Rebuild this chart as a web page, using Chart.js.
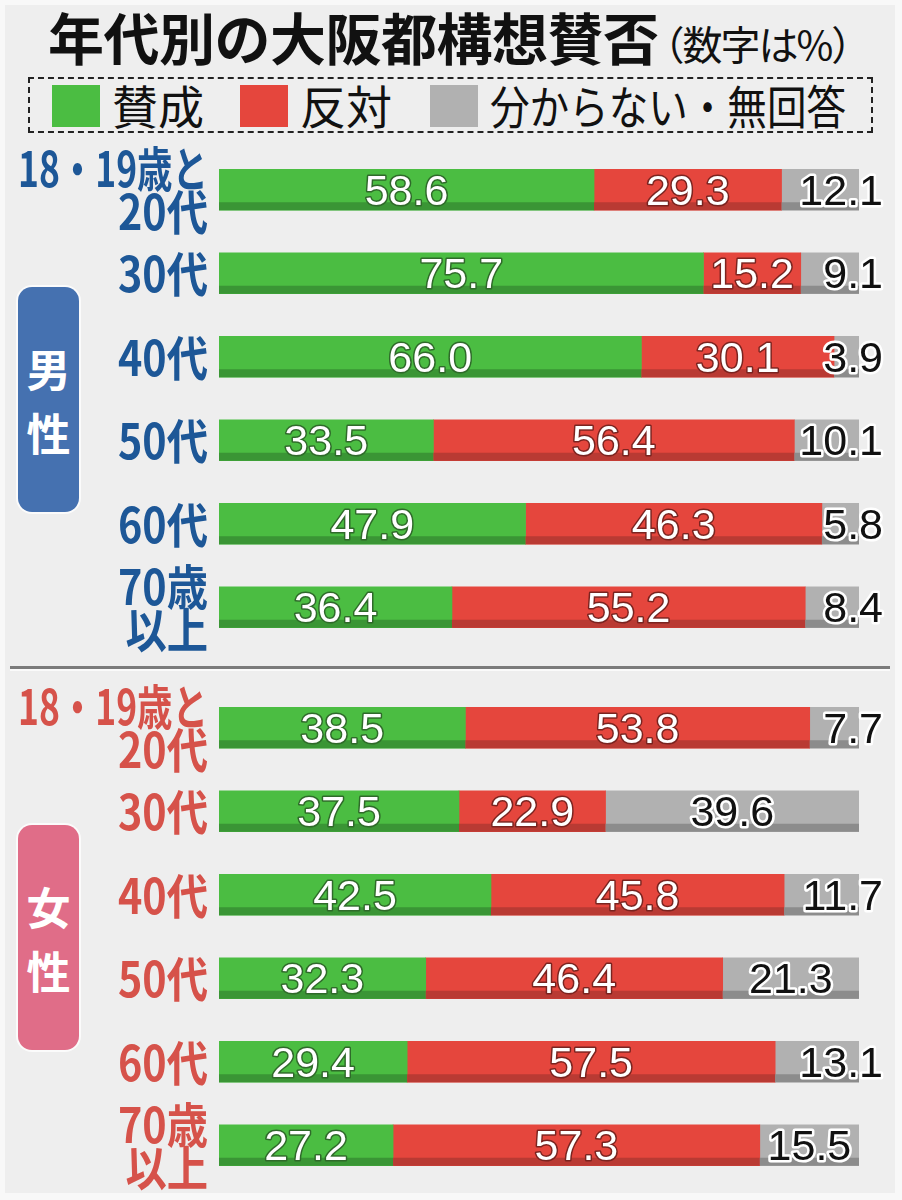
<!DOCTYPE html>
<html lang="ja">
<head>
<meta charset="utf-8">
<script src="https://cdn.jsdelivr.net/npm/chart.js@4.4.1/dist/chart.umd.min.js"></script>
<style>
  html, body { margin: 0; padding: 0; }
  body { width: 902px; height: 1200px; background: #f8f8f8; position: relative; overflow: hidden; font-family: 'Noto Sans CJK JP', sans-serif; }
  #panel { position: absolute; left: 5px; top: 5px; width: 890px; height: 1188px; background: #eeeeee; }
  .abs { position: absolute; }
  #title { left: 48px; top: 4px; font-size: 56px; font-weight: bold; color: #111; line-height: 64px; white-space: nowrap; letter-spacing: -0.5px; }
  #title small { font-size: 40px; font-weight: normal; letter-spacing: -2px; margin-left: -14px; display: inline-block; }
  #legend { left: 28px; top: 77px; width: 841px; height: 52px; border: 2px dashed #222; }
  .lg-box { position: absolute; top: 6px; width: 48px; height: 42px; }
  .lg-text { position: absolute; top: -3px; font-size: 46px; line-height: 56px; color: #111; white-space: nowrap; transform-origin: left center; }
  .badge { left: 18px; width: 61px; border-radius: 14px; color: #fff; font-weight: bold; font-size: 44px; line-height: 64px; text-align: center; box-shadow: 0 0 0 2px rgba(255,255,255,0.75); display: flex; flex-direction: column; justify-content: center; }
  #sep { left: 10px; top: 666px; width: 880px; height: 3px; background: #7b7b7b; border-bottom: 2px solid #fafafa; }
  .chartbox { position: absolute; left: 0; width: 902px; }
</style>
</head>
<body>
<div id="panel"></div>
<div id="title" class="abs">年代別の大阪都構想賛否<small>（数字は%）</small></div>
<div id="legend" class="abs"></div>
<div class="abs badge" style="top:287px;height:225px;background:#4571b0;">男<br>性</div>
<div class="abs badge" style="top:825px;height:225px;background:#e06d88;">女<br>性</div>
<div id="sep" class="abs"></div>
<div class="chartbox" style="top:138px;height:521px;"><canvas id="male"></canvas></div>
<div class="chartbox" style="top:676px;height:521px;"><canvas id="female"></canvas></div>
<script>
// ---- data ----
const seriesNames = ['賛成', '反対', '分からない・無回答'];
const maleCategories = [['18・19歳と', '20代'], ['30代'], ['40代'], ['50代'], ['60代'], ['70歳', '以上']];
const femaleCategories = [['18・19歳と', '20代'], ['30代'], ['40代'], ['50代'], ['60代'], ['70歳', '以上']];
const maleApprove = [58.6, 75.7, 66.0, 33.5, 47.9, 36.4];
const maleOppose  = [29.3, 15.2, 30.1, 56.4, 46.3, 55.2];
const maleUnknown = [12.1, 9.1, 3.9, 10.1, 5.8, 8.4];
const femaleApprove = [38.5, 37.5, 42.5, 32.3, 29.4, 27.2];
const femaleOppose  = [53.8, 22.9, 45.8, 46.4, 57.5, 57.3];
const femaleUnknown = [7.7, 39.6, 11.7, 21.3, 13.1, 15.5];
const axisMin = 0, axisMax = 100;

// ---- styles ----
const barColors = ['#4bbd42', '#e5463d', '#b1b1b1'];
const shadeColors = ['#3a9535', '#b93a33', '#8c8c8c'];
const textStroke = ['#2f6a2a', '#7a2420', '#ffffff'];

// legend (HTML, built from series arrays)
const legendEl = document.getElementById('legend');
const legendPos = [22, 210, 400];
const legendScale = [1, 1, 0.86];
seriesNames.forEach((name, i) => {
  const b = document.createElement('div');
  b.className = 'lg-box'; b.style.left = legendPos[i] + 'px'; b.style.background = barColors[i];
  legendEl.appendChild(b);
  const t = document.createElement('div');
  t.className = 'lg-text'; t.textContent = name;
  t.style.left = (legendPos[i] + 60) + 'px';
  t.style.transform = 'scaleX(' + legendScale[i] + ')';
  legendEl.appendChild(t);
});

const barDecor = {
  id: 'barDecor',
  afterDatasetsDraw(chart) {
    const ctx = chart.ctx;
    chart.data.datasets.forEach((ds, di) => {
      chart.getDatasetMeta(di).data.forEach(bar => {
        const p = bar.getProps(['x', 'y', 'base', 'height'], true);
        const left = Math.min(p.base, p.x), w = Math.abs(p.x - p.base);
        ctx.save();
        ctx.fillStyle = shadeColors[di];
        ctx.fillRect(left, p.y + p.height / 2 - 8, w, 8);
        ctx.restore();
      });
    });
  }
};

const valueLabels = {
  id: 'valueLabels',
  afterDraw(chart) {
    const ctx = chart.ctx;
    ctx.save();
    ctx.font = "43px 'Liberation Sans', Arial, sans-serif";
    ctx.textBaseline = 'alphabetic';
    ctx.lineJoin = 'round';
    chart.data.datasets.forEach((ds, di) => {
      chart.getDatasetMeta(di).data.forEach((bar, i) => {
        const p = bar.getProps(['x', 'y', 'base'], true);
        const txt = ds.data[i].toFixed(1);
        const w = Math.abs(p.x - p.base);
        let tx = (p.x + p.base) / 2;
        ctx.textAlign = 'center';
        if (di === 2 && w < 95) { ctx.textAlign = 'right'; tx = chart.chartArea.right + 24; }
        const ty = p.y + 15;
        ctx.strokeStyle = textStroke[di];
        ctx.lineWidth = di === 2 ? 5 : 3;
        ctx.strokeText(txt, tx, ty);
        ctx.fillStyle = di === 2 ? '#111111' : '#ffffff';
        ctx.fillText(txt, tx, ty);
      });
    });
    ctx.restore();
  }
};

const catLabels = {
  id: 'catLabels',
  afterDraw(chart) {
    const ctx = chart.ctx;
    const yScale = chart.scales.y;
    const color = chart.options.plugins.catLabels.color;
    ctx.save();
    ctx.fillStyle = color;
    ctx.textAlign = 'right';
    ctx.textBaseline = 'middle';
    ctx.font = "bold 48px 'Noto Sans CJK JP', sans-serif";
    chart.data.labels.forEach((lines, i) => {
      const cy = yScale.getPixelForValue(i);
      const n = lines.length;
      lines.forEach((line, li) => {
        const dy = (li - (n - 1) / 2) * 43;
        ctx.save();
        ctx.translate(208, cy + dy + 1);
        ctx.scale(0.86, 1);
        ctx.fillText(line, 0, 0, 190 / 0.86);
        ctx.restore();
      });
    });
    ctx.restore();
  }
};

function makeChart(id, labels, a, o, u, labelColor) {
  return new Chart(document.getElementById(id), {
    type: 'bar',
    data: {
      labels: labels,
      datasets: [a, o, u].map((d, i) => ({
        label: seriesNames[i], data: d, backgroundColor: barColors[i],
        borderWidth: 0, barThickness: 41
      }))
    },
    options: {
      indexAxis: 'y',
      responsive: true,
      maintainAspectRatio: false,
      animation: false,
      layout: { padding: { left: 219, right: 43, top: 10, bottom: 10 } },
      scales: {
        x: { stacked: true, min: axisMin, max: axisMax, display: false },
        y: { stacked: true, display: false }
      },
      plugins: {
        legend: { display: false },
        tooltip: { enabled: false },
        catLabels: { color: labelColor }
      }
    },
    plugins: [barDecor, valueLabels, catLabels]
  });
}

makeChart('male', maleCategories, maleApprove, maleOppose, maleUnknown, '#1d5797');
makeChart('female', femaleCategories, femaleApprove, femaleOppose, femaleUnknown, '#d6524a');
</script>
</body>
</html>
